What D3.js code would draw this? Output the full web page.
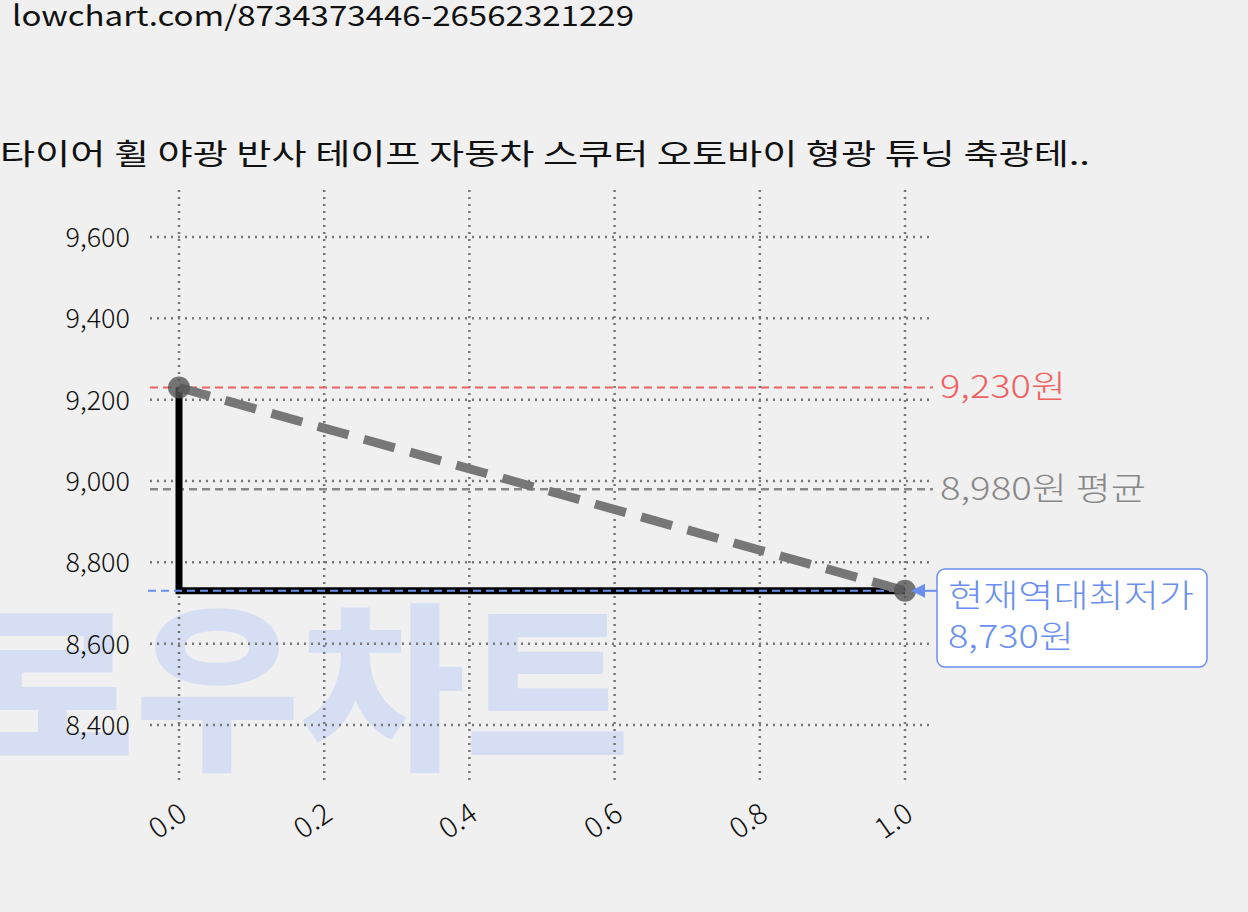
<!DOCTYPE html>
<html><head><meta charset="utf-8">
<script src="https://cdn.jsdelivr.net/npm/d3@7"></script>
<style>body{margin:0;background:#f0f0f0;font-family:"Noto Sans CJK KR","Noto Sans",sans-serif;}</style>
</head><body>
<div class="plot"></div>
<script>
const xValues = [0, 1];
const prices = [9230, 8730];
const yTicks = [8400, 8600, 8800, 9000, 9200, 9400, 9600];
const xTicks = [0, 0.2, 0.4, 0.6, 0.8, 1.0];
const maxPrice = 9230, avgPrice = 8980, minPrice = 8730;
const title = "타이어 휠 야광 반사 테이프 자동차 스쿠터 오토바이 형광 튜닝 축광테..";
const url = "lowchart.com/8734373446-26562321229";

const width = 1248, height = 912;
const xScale = d3.scaleLinear().domain([0, 1]).range([179, 905]);
const yScale = d3.scaleLinear().domain([8400, 9600]).range([725, 237]);

const svg = d3.select('.plot').append('svg').attr('width', width).attr('height', height);
svg.append('rect').attr('width', width).attr('height', height).attr('fill', '#f0f0f0');

// watermark
svg.append('text').attr('x', -30).attr('y', 755)
  .attr('font-size', 180).attr('font-weight', 900)
  .attr('fill', '#d5def2').attr('textLength', 660).attr('lengthAdjust', 'spacingAndGlyphs').text('로우차트');

svg.append('text').attr('x', 12).attr('y', 26).attr('font-size', 28).attr('fill', '#111')
  .attr('textLength', 622).attr('lengthAdjust', 'spacingAndGlyphs').text(url);
svg.append('text').attr('x', 0).attr('y', 165).attr('font-size', 29).attr('fill', '#111')
  .attr('textLength', 1090).attr('lengthAdjust', 'spacingAndGlyphs').text(title);

// grid
const grid = svg.append('g').attr('stroke', '#777').attr('stroke-width', 2.5).attr('stroke-dasharray', '2,5');
xTicks.forEach(t => grid.append('line').attr('x1', xScale(t)).attr('x2', xScale(t)).attr('y1', 190).attr('y2', 785));
yTicks.forEach(t => grid.append('line').attr('x1', 150).attr('x2', 933).attr('y1', yScale(t)).attr('y2', yScale(t)));

yTicks.forEach(t => svg.append('text').attr('x', 130).attr('y', yScale(t) + 10)
  .attr('text-anchor', 'end').attr('font-size', 27).attr('font-weight', 300).attr('fill', '#111').text(d3.format(',')(t)));
xTicks.forEach(t => svg.append('text')
  .attr('transform', `translate(${xScale(t) + 10},${818}) rotate(-35)`)
  .attr('text-anchor', 'end').attr('font-size', 29).attr('font-weight', 300).attr('fill', '#111').text(t.toFixed(1)));

// reference lines
svg.append('line').attr('x1', 150).attr('x2', 933).attr('y1', yScale(maxPrice)).attr('y2', yScale(maxPrice))
  .attr('stroke', '#f06060').attr('stroke-width', 2).attr('stroke-dasharray', '8,5');
svg.append('line').attr('x1', 150).attr('x2', 933).attr('y1', yScale(avgPrice)).attr('y2', yScale(avgPrice))
  .attr('stroke', '#888').attr('stroke-width', 2.5).attr('stroke-dasharray', '8,5');

// step line
const step = d3.line().x(d => xScale(d[0])).y(d => yScale(d[1]));
svg.append('path').attr('d', step([[xValues[0], prices[0]], [xValues[0], prices[1]], [xValues[1], prices[1]]]))
  .attr('fill', 'none').attr('stroke', '#000').attr('stroke-width', 7);
svg.append('line').attr('x1', 148).attr('x2', xScale(1)).attr('y1', yScale(minPrice)).attr('y2', yScale(minPrice))
  .attr('stroke', '#6b8ff0').attr('stroke-width', 2).attr('stroke-dasharray', '8,5');

// trend dashed
svg.append('path').attr('d', step(xValues.map((x, i) => [x, prices[i]])))
  .attr('fill', 'none').attr('stroke', '#777').attr('stroke-width', 9).attr('stroke-dasharray', '32,16');
svg.selectAll('.pt').data(xValues).enter().append('circle')
  .attr('cx', d => xScale(d)).attr('cy', (d, i) => yScale(prices[i])).attr('r', 11)
  .attr('fill', '#555').attr('opacity', 0.8);

// labels
svg.append('text').attr('x', 940).attr('y', yScale(maxPrice) + 11).attr('font-size', 32).attr('font-weight', 300).attr('fill', '#f06060')
  .attr('textLength', 126).attr('lengthAdjust', 'spacingAndGlyphs').text(d3.format(',')(maxPrice) + '원');
svg.append('text').attr('x', 940).attr('y', yScale(avgPrice) + 11).attr('font-size', 32).attr('font-weight', 300).attr('fill', '#888')
  .attr('textLength', 206).attr('lengthAdjust', 'spacingAndGlyphs').text(d3.format(',')(avgPrice) + '원 평균');

// annotation box
svg.append('rect').attr('x', 937).attr('y', 569).attr('width', 270).attr('height', 98).attr('rx', 8)
  .attr('fill', '#fff').attr('stroke', '#6b8ff0').attr('stroke-width', 1.5);
svg.append('path').attr('d', `M${xScale(1) + 6},${yScale(minPrice)} l14,-7 l0,14 z`).attr('fill', '#6b8ff0');
svg.append('line').attr('x1', xScale(1) + 15).attr('x2', 937).attr('y1', yScale(minPrice)).attr('y2', yScale(minPrice))
  .attr('stroke', '#6b8ff0').attr('stroke-width', 2);
svg.append('text').attr('x', 948).attr('y', 607).attr('font-size', 32).attr('font-weight', 300).attr('fill', '#6b8ff0')
  .attr('textLength', 246).attr('lengthAdjust', 'spacingAndGlyphs').text('현재역대최저가');
svg.append('text').attr('x', 948).attr('y', 648).attr('font-size', 32).attr('font-weight', 300).attr('fill', '#6b8ff0')
  .attr('textLength', 126).attr('lengthAdjust', 'spacingAndGlyphs').text(d3.format(',')(minPrice) + '원');
</script>
</body></html>
